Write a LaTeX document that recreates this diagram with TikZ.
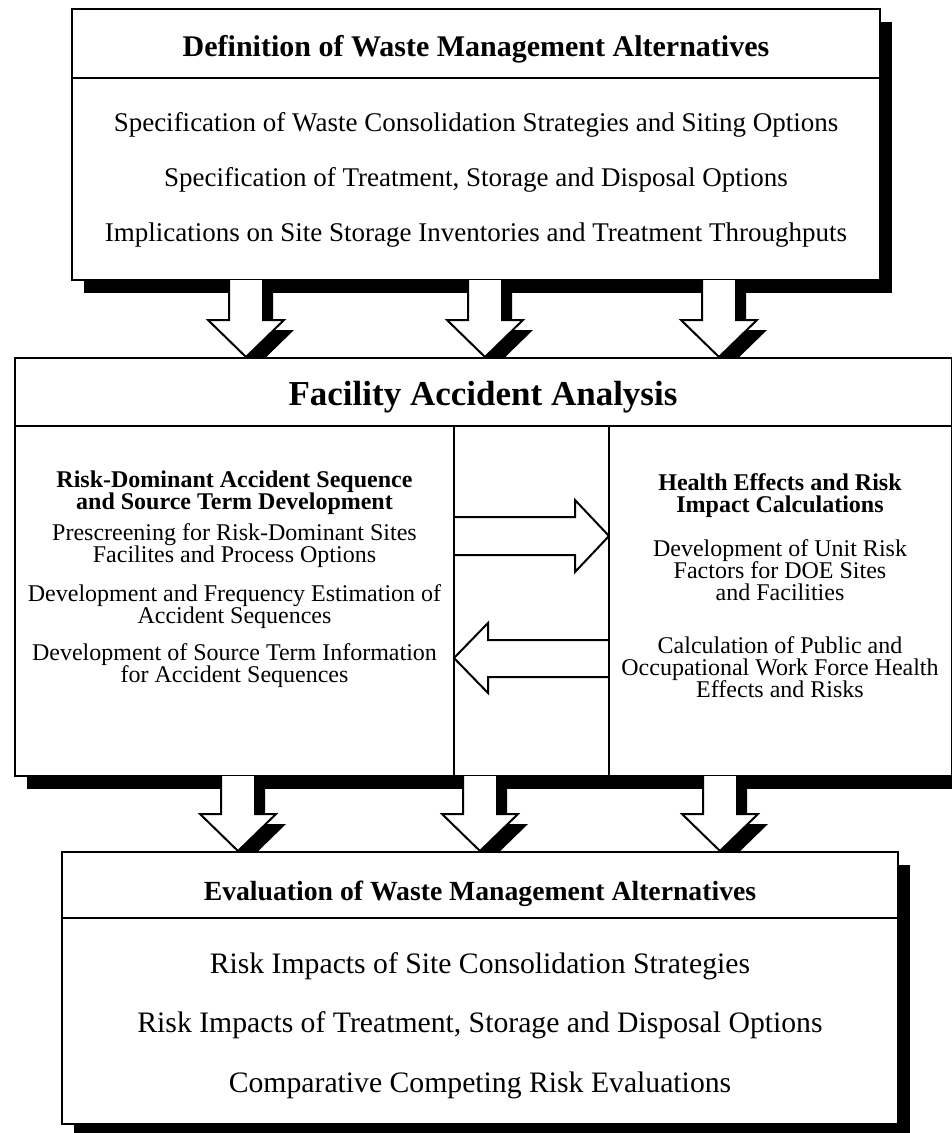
\documentclass[tikz,border=0pt]{standalone}
\usepackage{fontspec}
\setmainfont{Liberation Serif}
\usetikzlibrary{calc,shadows}

% hollow block arrow pointing down, with a solid offset shadow
% #1 = x of axis, #2 = y where the shaft starts, #3 = y of the head's base, #4 = y of the tip
\newcommand{\downblock}[4]{%
  \begin{scope}[shift={(10,10)}]
    \fill[black] ({#1-17},#2) -- ({#1-17},#3) -- ({#1-38},#3) -- (#1,#4)
      -- ({#1+38},#3) -- ({#1+17},#3) -- ({#1+17},#2) -- cycle;
  \end{scope}
  \fill[white] ({#1-17},#2) -- ({#1-17},#3) -- ({#1-38},#3) -- (#1,#4)
      -- ({#1+38},#3) -- ({#1+17},#3) -- ({#1+17},#2) -- cycle;
  \draw[arrowline] ({#1-17},#2) -- ({#1-17},#3) -- ({#1-38},#3) -- (#1,#4)
      -- ({#1+38},#3) -- ({#1+17},#3) -- ({#1+17},#2);
}

\tikzset{
  panel/.style={draw, line width=1.8pt, fill=white, inner sep=0pt, outer sep=0pt,
    anchor=north west,
    drop shadow={shadow xshift=12pt, shadow yshift=-13pt, fill=black, opacity=1}},
  headrule/.style={line width=1.6pt},
  colrule/.style={line width=1.4pt},
  arrowline/.style={line width=2pt, line join=miter},
  toptitle/.style={anchor=base, inner sep=0pt, font=\bfseries\fontsize{30}{32}\selectfont},
  topline/.style={anchor=base, inner sep=0pt, font=\fontsize{27}{30}\selectfont},
  midtitle/.style={anchor=base, inner sep=0pt, font=\bfseries\fontsize{35}{38}\selectfont},
  colhead/.style={anchor=base, inner sep=0pt, font=\bfseries\fontsize{24}{26}\selectfont},
  colline/.style={anchor=base, inner sep=0pt, font=\fontsize{24}{26}\selectfont},
  bottitle/.style={anchor=base, inner sep=0pt, font=\bfseries\fontsize{27.7}{30}\selectfont},
  botline/.style={anchor=base, inner sep=0pt, font=\fontsize{29.7}{32}\selectfont},
}

\begin{document}
\begin{tikzpicture}[x=1pt, y=-1pt]
\useasboundingbox[fill=white] (0,0) rectangle (951,1133);

% ---------- definition of alternatives ----------
\node[panel, minimum width=808pt, minimum height=271pt] (defbox) at (72,9) {};
\draw[headrule] ($(defbox.north west)+(0,69)$) -- ($(defbox.north east)+(0,69)$);
\node[toptitle] (t0) at (476,56) {Definition of Waste Management Alternatives};
\node[topline] (t1) at (476,131) {Specification of Waste Consolidation Strategies and Siting Options};
\node[topline] (t2) at (476,186) {Specification of Treatment, Storage and Disposal Options};
\node[topline] (t3) at (476,241) {Implications on Site Storage Inventories and Treatment Throughputs};

% arrows into the accident analysis
\downblock{246}{280}{320}{357}
\downblock{485}{280}{320}{357}
\downblock{719}{280}{320}{357}

% ---------- facility accident analysis ----------
\node[panel, minimum width=936.5pt, minimum height=418pt] (accbox) at (15,358) {};
\draw[headrule] ($(accbox.north west)+(0,68)$) -- ($(accbox.north east)+(0,68)$);
\node[midtitle] (m0) at (483,405) {Facility Accident Analysis};
\coordinate (c1top) at (454,426);
\coordinate (c1bot) at (454,776);
\coordinate (c2top) at (609,426);
\coordinate (c2bot) at (609,776);
\draw[colrule] (c1top) -- (c1bot);
\draw[colrule] (c2top) -- (c2bot);

% left column
\node[colhead] (l1) at (234.5,487) {Risk-Dominant Accident Sequence};
\node[colhead] (l2) at (234.5,509) {and Source Term Development};
\node[colline] (l3) at (234.5,540) {Prescreening for Risk-Dominant Sites};
\node[colline] (l4) at (234.5,562) {Facilites and Process Options};
\node[colline] (l5) at (234.5,601) {Development and Frequency Estimation of};
\node[colline] (l6) at (234.5,623) {Accident Sequences};
\node[colline] (l7) at (234.5,660) {Development of Source Term Information};
\node[colline] (l8) at (234.5,682) {for Accident Sequences};

% right column
\node[colhead] (r1) at (780,490) {Health Effects and Risk};
\node[colhead] (r2) at (780,512) {Impact Calculations};
\node[colline] (r3) at (780,556) {Development of Unit Risk};
\node[colline] (r4) at (780,578) {Factors for DOE Sites};
\node[colline] (r5) at (780,600) {and Facilities};
\node[colline] (r6) at (780,653) {Calculation of Public and};
\node[colline] (r7) at (780,675) {Occupational Work Force Health};
\node[colline] (r8) at (780,697) {Effects and Risks};

% exchange arrows between the two columns
\draw[arrowline] (454,517) -- (575,517) -- (575,500) -- (609,536) -- (575,572) -- (575,555) -- (454,555);
\draw[arrowline] (609,640) -- (488,640) -- (488,623) -- (454,658) -- (488,693) -- (488,677) -- (609,677);

% arrows into the evaluation
\downblock{238}{776}{814}{851}
\downblock{480}{776}{814}{851}
\downblock{720}{776}{814}{851}

% ---------- evaluation of alternatives ----------
\node[panel, minimum width=836pt, minimum height=272pt] (evalbox) at (62,852) {};
\draw[headrule] ($(evalbox.north west)+(0,66)$) -- ($(evalbox.north east)+(0,66)$);
\node[bottitle] (b0) at (480,900) {Evaluation of Waste Management Alternatives};
\node[botline] (b1) at (480,973) {Risk Impacts of Site Consolidation Strategies};
\node[botline] (b2) at (480,1032) {Risk Impacts of Treatment, Storage and Disposal Options};
\node[botline] (b3) at (480,1092) {Comparative Competing Risk Evaluations};
\end{tikzpicture}
\end{document}
